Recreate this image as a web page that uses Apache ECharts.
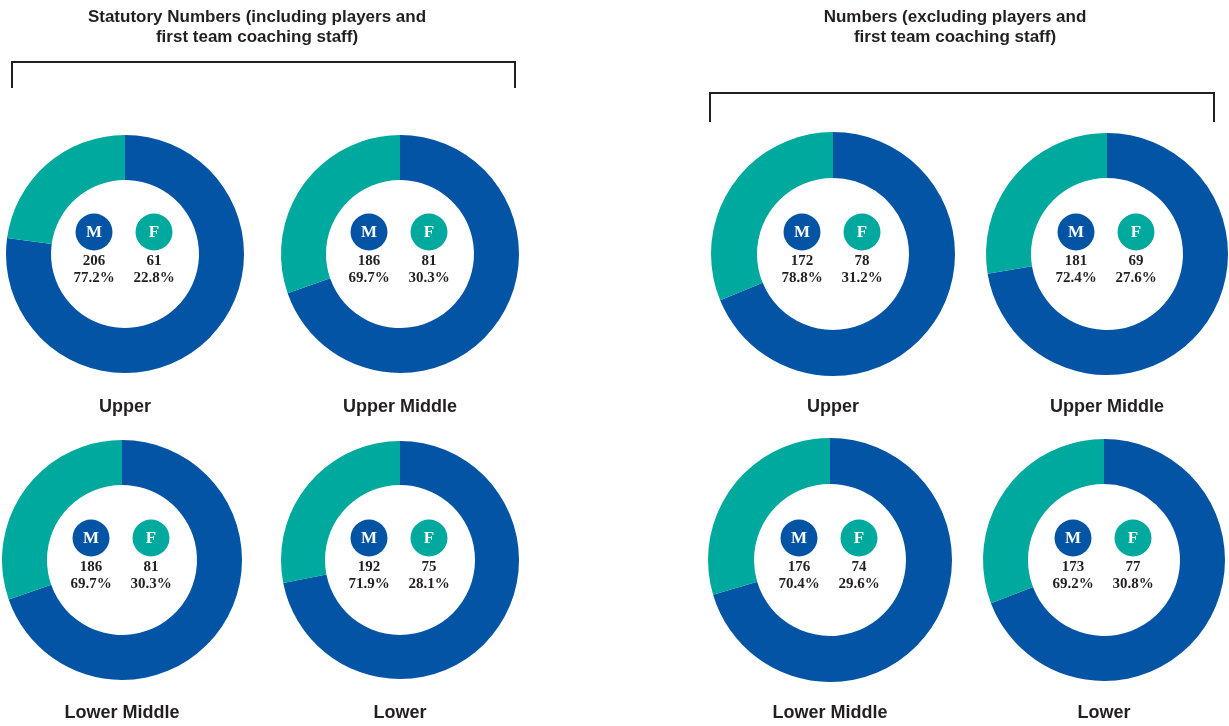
<!DOCTYPE html>
<html>
<head>
<meta charset="utf-8">
<script src="https://cdn.jsdelivr.net/npm/echarts@6/dist/echarts.min.js"></script>
<style>
  html, body { margin: 0; padding: 0; background: #fff; }
  #chart { width: 1229px; height: 726px; }
</style>
</head>
<body>
<div id="chart"></div>
<script>
// data
const groupTitles = [
  ['Statutory Numbers (including players and', 'first team coaching staff)'],
  ['Numbers (excluding players and', 'first team coaching staff)']
];
const bands = ['Upper', 'Upper Middle', 'Lower Middle', 'Lower', 'Upper', 'Upper Middle', 'Lower Middle', 'Lower'];
const maleCounts = [206, 186, 186, 192, 172, 181, 176, 173];
const femaleCounts = [61, 81, 81, 75, 78, 69, 74, 77];
const malePct = ['77.2%', '69.7%', '69.7%', '71.9%', '78.8%', '72.4%', '70.4%', '69.2%'];
const femalePct = ['22.8%', '30.3%', '30.3%', '28.1%', '31.2%', '27.6%', '29.6%', '30.8%'];

// layout
const centers = [[125, 254], [400, 254], [122, 560], [400, 560], [833, 254], [1107, 254], [830, 560], [1104, 560]];
const radii = [[74, 119], [74, 119], [75, 120], [75, 119], [76, 122], [76, 121], [76, 122], [76, 121]];
const BLUE = '#0354a5';
const TEAL = '#00a99d';
const INK = '#231f20';

const chart = echarts.init(document.getElementById('chart'));

const series = centers.map((c, i) => ({
  type: 'pie',
  center: c,
  radius: radii[i],
  startAngle: 90,
  clockwise: true,
  silent: true,
  label: { show: false },
  labelLine: { show: false },
  itemStyle: { borderWidth: 0 },
  data: [
    { name: 'M', value: maleCounts[i], itemStyle: { color: BLUE } },
    { name: 'F', value: femaleCounts[i], itemStyle: { color: TEAL } }
  ]
}));

function txt(x, y, text, font, fill) {
  return { type: 'text', x: x, y: y, style: { text: text, fill: fill || INK, font: font, align: 'center', verticalAlign: 'middle' } };
}

const graphic = [];
centers.forEach((c, i) => {
  const [cx, cy] = c;
  const mx = cx - 31, fx = cx + 29;
  const numFont = 'bold 15px "Liberation Serif"';
  graphic.push(
    { type: 'circle', shape: { cx: mx, cy: cy - 22, r: 18.5 }, style: { fill: BLUE } },
    { type: 'circle', shape: { cx: fx, cy: cy - 22, r: 18.5 }, style: { fill: TEAL } },
    txt(mx, cy - 21, 'M', 'bold 17px "Liberation Serif"', '#fff'),
    txt(fx, cy - 21, 'F', 'bold 17px "Liberation Serif"', '#fff'),
    txt(mx, cy + 7, String(maleCounts[i]), numFont),
    txt(fx, cy + 7, String(femaleCounts[i]), numFont),
    txt(mx, cy + 24, malePct[i], numFont),
    txt(fx, cy + 24, femalePct[i], numFont),
    txt(cx, cy + 153, bands[i], 'bold 18px "Liberation Sans"')
  );
});

// group titles and brackets
const titleFont = 'bold 17px "Liberation Sans"';
graphic.push(
  txt(257, 17, groupTitles[0][0], titleFont),
  txt(257, 37, groupTitles[0][1], titleFont),
  txt(955, 17, groupTitles[1][0], titleFont),
  txt(955, 37, groupTitles[1][1], titleFont),
  { type: 'polyline', shape: { points: [[12, 88], [12, 62], [515, 62], [515, 88]] }, style: { stroke: INK, lineWidth: 2, fill: null } },
  { type: 'polyline', shape: { points: [[710, 122], [710, 93], [1214, 93], [1214, 122]] }, style: { stroke: INK, lineWidth: 2, fill: null } }
);

chart.setOption({
  animation: false,
  backgroundColor: '#fff',
  series: series,
  graphic: graphic
});
</script>
</body>
</html>
